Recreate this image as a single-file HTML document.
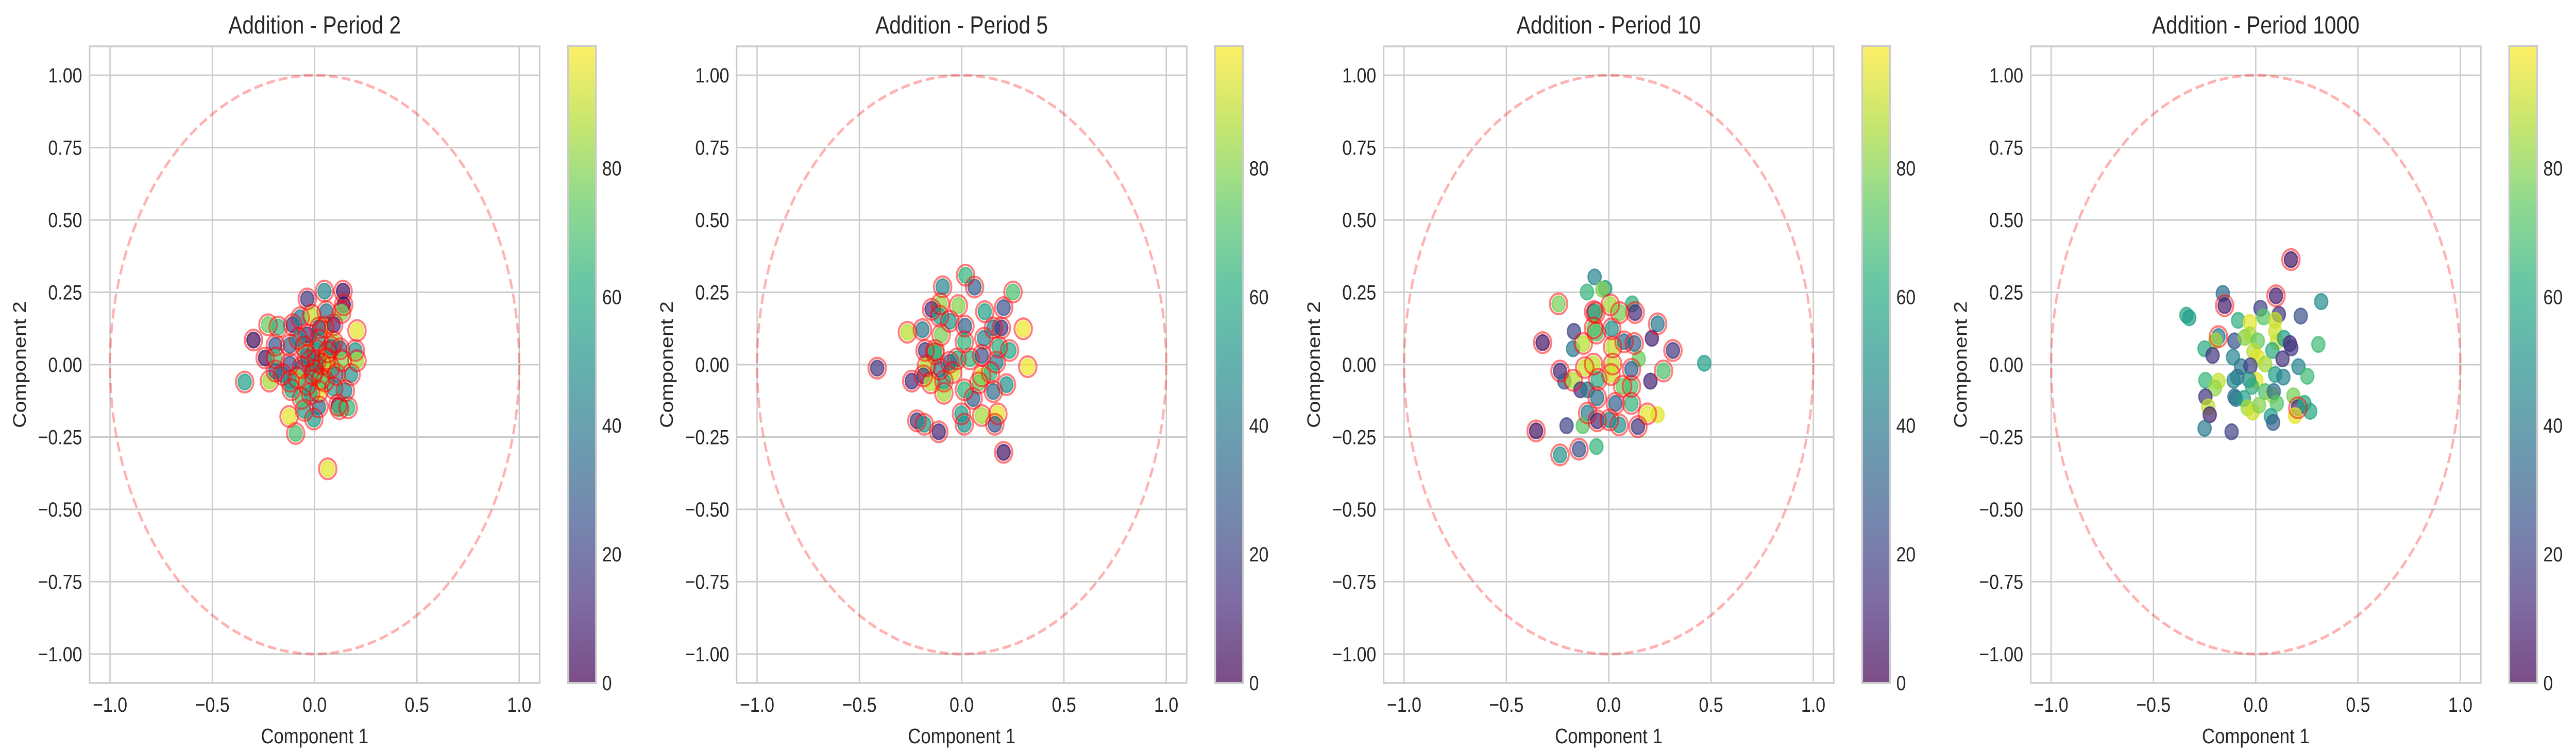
<!DOCTYPE html>
<html><head><meta charset="utf-8"><style>
html,body{margin:0;padding:0;background:#fff;overflow:hidden;width:100vw;height:100vh;}
#fig{display:block;width:100vw;height:100vh;position:absolute;left:0;top:0;}
svg text{font-family:"Liberation Sans",sans-serif;fill:#262626;}
</style></head><body>
<svg id="fig" xmlns="http://www.w3.org/2000/svg" viewBox="0 0 5895 1462" preserveAspectRatio="none">
<defs>
<linearGradient id="vir" x1="0" y1="1" x2="0" y2="0">
<stop offset="0" stop-color="#440154"/><stop offset="0.125" stop-color="#472d7b"/><stop offset="0.25" stop-color="#3b528b"/><stop offset="0.375" stop-color="#2c728e"/><stop offset="0.5" stop-color="#21918c"/><stop offset="0.625" stop-color="#28ae80"/><stop offset="0.75" stop-color="#5ec962"/><stop offset="0.875" stop-color="#addc30"/><stop offset="1" stop-color="#fde725"/>
</linearGradient>
</defs>
</svg>
<script>
const titles = ["Addition - Period 2","Addition - Period 5","Addition - Period 10","Addition - Period 1000"];
const xTicks = [-1.0,-0.5,0.0,0.5,1.0];
const xTickLabels = ["\u22121.0","\u22120.5","0.0","0.5","1.0"];
const yTicks = [1.0,0.75,0.5,0.25,0,-0.25,-0.5,-0.75,-1.0];
const yTickLabels = ["1.00","0.75","0.50","0.25","0.00","\u22120.25","\u22120.50","\u22120.75","\u22121.00"];
const cbTicks = [0,20,40,60,80];
const cbMax = 99;

const p2x = [0.048,0.139,-0.036,0.142,0.132,0.207,-0.299,-0.228,-0.178,-0.192,-0.242,-0.192,-0.342,-0.221,-0.121,-0.107,-0.071,-0.014,0.057,0.050,0.093,0.021,0.093,0.125,0.199,0.207,0.178,0.150,0.114,0.164,0.121,-0.125,-0.093,0.064,-0.004,0.021,-0.050,-0.064,-0.114,0.021,0.093,-0.021,-0.064,-0.121,0.036,0.078,-0.007,-0.085,-0.157,-0.036,0.050,0.107,0.007,-0.050,0.064,0.021,-0.036,0.135,-0.121,-0.192,0.0,0.03,-0.04,0.06,0.01,-0.02,0.08,-0.08];
const p2y = [0.254,0.254,0.227,0.207,0.180,0.118,0.085,0.138,0.130,0.067,0.023,0.023,-0.060,-0.057,0.067,0.138,0.162,0.171,0.183,0.130,0.138,0.127,0.079,0.055,0.049,0.014,-0.034,-0.090,-0.140,-0.149,-0.152,-0.179,-0.238,-0.360,-0.188,-0.146,-0.158,-0.117,-0.087,-0.093,-0.081,0.014,-0.010,0.002,0.002,-0.010,-0.034,-0.045,-0.034,-0.069,-0.057,-0.034,0.049,0.061,0.044,0.085,0.103,0.014,-0.057,-0.022,-0.02,-0.05,0.03,0.02,0.01,-0.10,0.06,0.09];
const p2c = [45,5,15,5,80,95,3,75,65,25,5,70,55,85,30,15,40,90,35,95,10,20,85,30,50,85,50,45,15,65,70,95,70,95,55,35,55,70,60,95,55,75,30,25,75,90,45,85,35,65,70,40,50,75,90,55,15,80,50,30,60,75,40,85,50,55,30,45];

const p5x = [0.019,0.063,-0.093,0.251,0.205,0.113,-0.016,-0.105,-0.147,-0.108,-0.058,0.016,-0.265,-0.192,-0.101,0.013,0.109,0.155,0.194,0.301,0.180,0.234,0.323,-0.179,-0.130,-0.130,-0.172,-0.244,-0.187,-0.151,-0.087,-0.044,-0.023,0.041,0.098,0.170,0.098,0.141,0.219,0.155,0.056,0.013,-0.087,-0.108,-0.001,0.013,0.098,0.177,0.162,-0.219,-0.183,-0.112,0.205,0.084,-0.058,-0.413];
const p5y = [0.309,0.268,0.269,0.251,0.197,0.183,0.204,0.210,0.191,0.168,0.150,0.133,0.112,0.121,0.103,0.079,0.091,0.127,0.127,0.124,0.061,0.049,-0.007,0.049,0.049,0.038,-0.004,-0.057,-0.039,-0.063,-0.099,-0.027,0.020,0.020,0.032,0.008,-0.039,-0.027,-0.069,-0.093,-0.117,-0.087,-0.057,-0.016,-0.170,-0.206,-0.176,-0.170,-0.206,-0.194,-0.206,-0.232,-0.303,-0.063,0.008,-0.012];
const p5c = [65,30,45,70,25,55,80,82,12,55,50,30,88,40,78,65,45,40,15,97,62,58,97,18,75,60,88,12,20,88,85,90,60,65,25,40,92,65,50,35,30,65,55,40,55,50,85,95,25,15,50,10,5,75,30,15];

const p10x = [-0.069,-0.017,-0.106,-0.031,-0.245,-0.074,-0.063,0.008,0.115,0.054,0.129,0.239,-0.170,-0.074,0.015,-0.060,-0.323,0.211,0.314,0.467,-0.174,-0.124,0.019,0.075,0.125,0.147,-0.074,0.019,0.111,-0.117,0.268,-0.238,-0.217,-0.174,-0.053,0.011,0.204,-0.138,-0.103,0.068,0.111,-0.056,0.033,0.111,-0.103,0.189,0.239,-0.206,-0.127,-0.056,0.004,0.051,0.143,-0.355,-0.238,-0.145,-0.060];
const p10y = [0.303,0.263,0.251,0.260,0.210,0.183,0.180,0.207,0.210,0.180,0.180,0.141,0.115,0.127,0.124,0.109,0.076,0.091,0.049,0.005,0.055,0.073,0.061,0.079,0.073,0.020,0.002,0.002,-0.016,-0.010,-0.022,-0.022,-0.057,-0.054,-0.051,-0.034,-0.057,-0.087,-0.087,-0.075,-0.075,-0.114,-0.134,-0.134,-0.167,-0.170,-0.173,-0.211,-0.211,-0.194,-0.191,-0.208,-0.214,-0.229,-0.312,-0.292,-0.283];
const p10c = [45,50,65,80,78,20,68,85,62,78,12,40,20,75,50,70,5,10,15,55,40,88,90,35,30,75,90,90,30,92,70,10,30,88,60,92,10,15,40,75,70,35,30,65,40,95,95,20,72,10,45,50,15,5,50,25,65];
const p10r = [0,0,0,0,1,1,1,1,0,1,1,1,0,1,1,1,1,0,1,0,0,1,1,1,1,0,1,1,1,1,1,1,0,1,1,1,0,0,0,1,1,1,1,1,1,1,0,0,0,1,1,1,1,1,1,1,0];

const p1000x = [0.172,0.099,-0.161,-0.152,0.320,-0.339,-0.325,0.023,0.038,0.113,0.220,-0.086,-0.029,0.095,0.095,0.103,0.138,0.167,0.174,0.306,-0.182,-0.197,-0.250,-0.211,-0.104,-0.054,-0.029,0.010,-0.011,0.010,0.081,0.131,-0.111,-0.072,-0.026,0.046,0.209,0.252,-0.246,-0.182,-0.200,-0.090,-0.108,0.003,0.095,0.135,-0.033,-0.246,-0.232,-0.225,-0.250,-0.118,-0.104,-0.097,-0.058,-0.019,0.046,0.081,0.088,0.103,-0.040,-0.015,0.017,0.074,0.085,0.184,0.206,0.238,0.266,0.192];
const p1000y = [0.363,0.238,0.246,0.204,0.218,0.171,0.162,0.195,0.165,0.174,0.168,0.153,0.146,0.153,0.115,0.079,0.091,0.073,0.058,0.070,0.097,0.082,0.055,0.032,0.082,0.094,0.103,0.082,0.046,0.026,0.049,0.020,0.026,-0.007,-0.004,0.002,-0.007,-0.040,-0.054,-0.057,-0.081,-0.043,-0.054,-0.054,-0.034,-0.043,-0.052,-0.111,-0.146,-0.173,-0.220,-0.232,-0.111,-0.117,-0.117,-0.075,-0.093,-0.105,-0.093,-0.134,-0.149,-0.164,-0.140,-0.179,-0.200,-0.108,-0.149,-0.134,-0.161,-0.176];
const p1000c = [5,8,35,8,48,58,55,20,72,15,25,62,95,90,92,92,55,12,18,68,40,85,60,15,25,80,85,75,88,95,60,15,45,40,20,85,45,68,65,90,82,35,45,95,55,45,48,15,90,10,40,20,35,40,55,62,70,85,35,72,85,92,80,55,30,78,10,58,58,95];
const p1000r = [1,1,0,1,0,0,0,0,0,0,0,0,0,0,0,0,0,0,0,0,1,0,0,0,0,0,0,0,0,0,0,0,0,0,0,0,0,0,0,0,0,0,0,0,0,0,0,0,0,0,0,0,0,0,0,0,0,0,0,0,0,0,0,0,0,0,1,0,0,0];

const panelsX = [p2x,p5x,p10x,p1000x];
const panelsY = [p2y,p5y,p10y,p1000y];
const panelsC = [p2c,p5c,p10c,p1000c];
const panelsR = [null,null,p10r,p1000r];

const NS="http://www.w3.org/2000/svg";
const svg=document.getElementById('fig');
function mk(tag,attrs,parent){const e=document.createElementNS(NS,tag);for(const k in attrs)e.setAttribute(k,attrs[k]);(parent||svg).appendChild(e);return e;}

const VIR=[[68,1,84],[72,40,120],[62,73,137],[49,104,142],[38,130,142],[31,158,137],[53,183,121],[110,206,88],[181,222,43],[253,231,37]];
function viridis(t){t=Math.max(0,Math.min(1,t));const s=t*(VIR.length-1);const i=Math.min(Math.floor(s),VIR.length-2);const f=s-i;const a=VIR[i],b=VIR[i+1];return 'rgb('+[0,1,2].map(k=>Math.round(a[k]+(b[k]-a[k])*f)).join(',')+')';}

const AX_W=1030, AX_H=1236, AX_TOP=90, PANEL_STEP=1480.7, AX_LEFT0=205;
for(let p=0;p<4;p++){
  const L=AX_LEFT0+p*PANEL_STEP, T=AX_TOP;
  const sx=v=>L+(v+1.1)/2.2*AX_W;
  const sy=v=>T+(1.1-v)/2.2*AX_H;
  const g=mk('g',{});
  
  
  xTicks.forEach((v,i)=>{
    const l=mk('line',{x1:sx(v),x2:sx(v),y1:T,y2:T+AX_H,stroke:'#cccccc','stroke-width':3},g);
    
    
    const t=mk('text',{x:sx(v),y:1382,'font-size':40,'text-anchor':'middle'},g);
    t.textContent=xTickLabels[i];
    
    
  });
  yTicks.forEach((v,i)=>{
    const l=mk('line',{x1:L,x2:L+AX_W,y1:sy(v),y2:sy(v),stroke:'#cccccc','stroke-width':3},g);
    
    
    const t=mk('text',{x:L-17,y:sy(v)+14,'font-size':40,'text-anchor':'end'},g);
    t.textContent=yTickLabels[i];
    
    
  });
  const el=mk('ellipse',{cx:sx(0),cy:sy(0),rx:sx(1)-sx(0),ry:sy(0)-sy(1),fill:'none',stroke:'rgb(255,0,0)','stroke-opacity':0.3,'stroke-width':5.5,'stroke-dasharray':'20 9'},g);
  
  
  const xs=panelsX[p], ys=panelsY[p], cs=panelsC[p], rs=panelsR[p];
  for(let i=0;i<xs.length;i++){
    const col=viridis(cs[i]/cbMax);
    const c=mk('circle',{cx:sx(xs[i]),cy:sy(ys[i]),r:15,fill:col,'fill-opacity':0.7,stroke:col,'stroke-opacity':0.7,'stroke-width':3},g);
    
    
  }
  for(let i=0;i<xs.length;i++){
    if(rs && !rs[i]) continue;
    const c=mk('circle',{cx:sx(xs[i]),cy:sy(ys[i]),r:20,fill:'none',stroke:'rgb(255,0,0)','stroke-opacity':0.5,'stroke-width':4.5},g);
    
    
  }
  const sp=mk('rect',{x:L,y:T,width:AX_W,height:AX_H,fill:'none',stroke:'#cccccc','stroke-width':3.5},g);
  
  
  const tt=mk('text',{x:L+AX_W/2,y:65,'font-size':48,'text-anchor':'middle'},g);
  tt.textContent=titles[p];
  
  
  const xl=mk('text',{x:L+AX_W/2,y:1443,'font-size':41,'text-anchor':'middle'},g);
  xl.textContent='Component 1';
  
  
  const yx=L-146, yy=T+AX_H/2;
  const yl=mk('text',{x:yx,y:yy,'font-size':41,'text-anchor':'middle',transform:'rotate(-90 '+yx+' '+yy+')'},g);
  yl.textContent='Component 2';
  
  
  const CL=L+1095, CW=64, CT=89, CB=1326;
  const cb=mk('rect',{x:CL,y:CT,width:CW,height:CB-CT,fill:'url(#vir)','fill-opacity':0.7,stroke:'#cccccc','stroke-width':4},g);
  
  
  cbTicks.forEach(v=>{
    const y=CB-(v/cbMax)*(CB-CT);
    const t=mk('text',{x:CL+CW+14,y:y+14,'font-size':40},g);
    t.textContent=String(v);
    
    
  });
}
</script>
</body></html>
